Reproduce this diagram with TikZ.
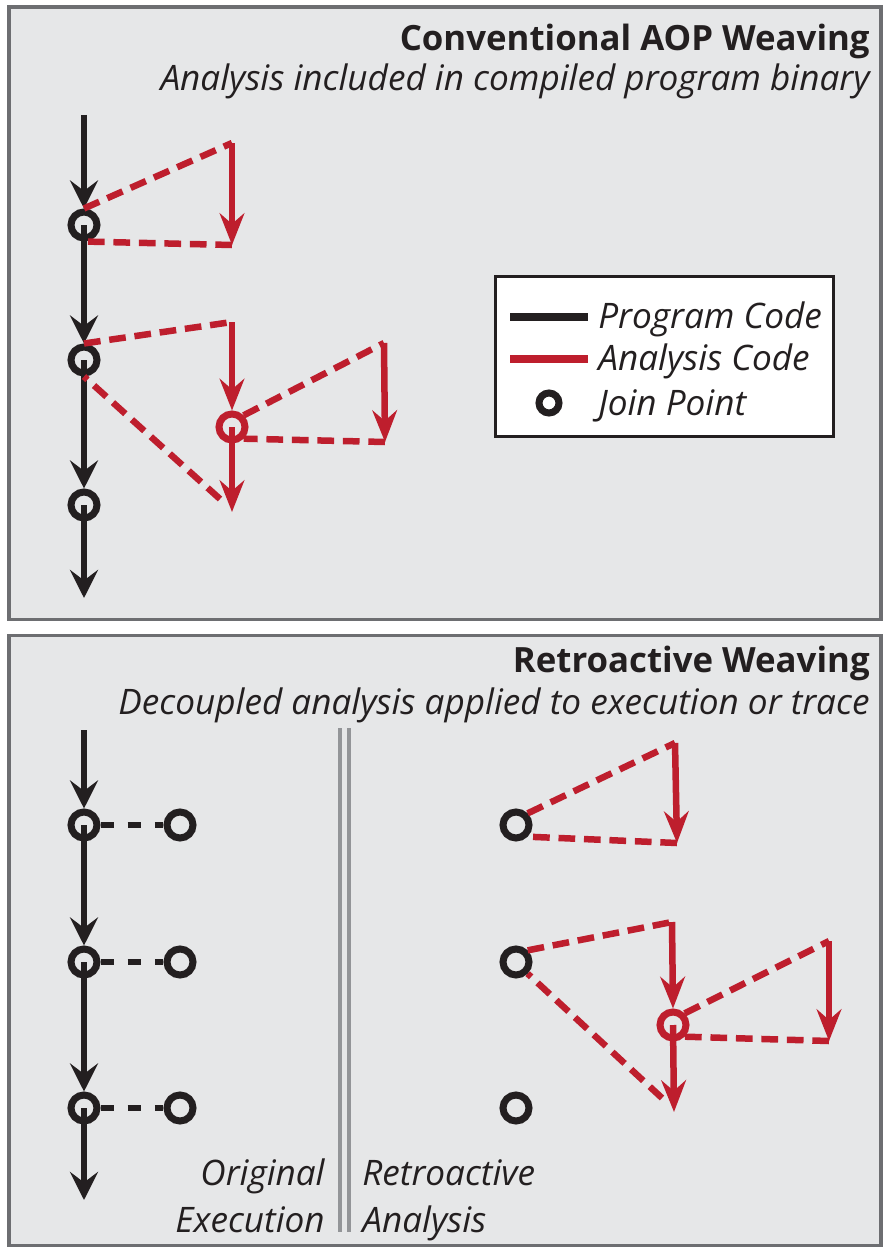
\documentclass[tikz,border=0pt]{standalone}
\usepackage{fontspec}
\setmainfont{Open Sans}
\usepackage{tikz}
\usetikzlibrary{arrows.meta,positioning}

\definecolor{panelgray}{HTML}{E6E7E8}
\definecolor{panelline}{HTML}{6D6E71}
\definecolor{codeblack}{HTML}{231F20}
\definecolor{codered}{HTML}{BE1E2D}
\definecolor{sepgray}{HTML}{939598}

\begin{document}
\begin{tikzpicture}[
    x=0.02cm, y=-0.02cm,
    panel/.style={fill=panelgray, draw=panelline, line width=2pt},
    progline/.style={line width=3.7pt, codeblack, -{Stealth[length=16pt,width=16pt,inset=6pt]}},
    advline/.style={line width=3.7pt, codered, -{Stealth[length=18pt,width=14pt,inset=6pt]}},
    weave/.style={line width=3.7pt, codered, dash pattern=on 9.5pt off 5pt},
    record/.style={line width=3.7pt, codeblack, dash pattern=on 7.5pt off 8pt},
    joinpt/.style={circle, draw=codeblack, line width=4pt, minimum size=0.52cm, inner sep=0pt},
    advpt/.style={joinpt, draw=codered},
    paneltitle/.style={anchor=base east, inner sep=0pt, text=codeblack, font=\fontsize{19.8}{24}\selectfont\bfseries},
    panelsub/.style={anchor=base east, inner sep=0pt, text=codeblack, font=\fontsize{20}{24}\selectfont\itshape},
    legtext/.style={anchor=base west, inner sep=0pt, text=codeblack, font=\fontsize{20}{24}\selectfont\itshape}
]
\useasboundingbox (0,0) rectangle (883,1247);

% Panels
\draw[panel] (9,7) rectangle (881,619.5);
\draw[panel] (9,635.5) rectangle (881,1245.5);

% ---------------- Conventional weaving ----------------
\node[paneltitle] (convtitle) at (870,51) {Conventional AOP Weaving};
\node[panelsub] (convsub) at (870,91) {Analysis included in compiled program binary};

% Join points
\node[joinpt] (j1) at (84,225) {};
\node[joinpt] (j2) at (84,360) {};
\node[joinpt] (j3) at (84,505) {};
\node[advpt] (r1) at (232,427) {};
\coordinate (p0) at (84,115);
\coordinate (p1) at (84,598);

% Program code
\draw[progline] (p0) -- (j1.north);
\draw[progline] (j1.center) -- (j2.north);
\draw[progline] (j2.center) -- (j3.north);
\draw[progline] (j3.center) -- (p1);

% Analysis code
\coordinate (t1) at (232,143);
\coordinate (b1) at (232,245);
\coordinate (t2) at (232,322);
\coordinate (b2) at (232,512);
\coordinate (s2) at (220,499);
\coordinate (t3) at (384,343);
\coordinate (b3) at (385,442);

\draw[weave] (j1.north) -- (t1);
\draw[advline] (t1) -- (b1);
\draw[weave] (b1) -- (j1.south);

\draw[weave] (j2.north) -- (t2);
\draw[advline] (t2) -- (r1.north);
\draw[advline] (r1.center) -- (b2);
\draw[weave] (s2) -- (j2.south);

\draw[weave] (r1.north east) -- (t3);
\draw[advline] (t3) -- (b3);
\draw[weave] (b3) -- (r1.south east);

% Legend
\node[draw=codeblack, fill=white, line width=1.7pt, minimum width=6.78cm, minimum height=3.22cm] (legend) at (664.5,356.5) {};
\draw[line width=4pt, codeblack] (510,317) -- (588,317);
\draw[line width=4pt, codered] (510,359) -- (588,359);
\node[circle, draw=codeblack, line width=4pt, minimum size=0.4cm, inner sep=0pt] (legjp) at (549,403) {};
\node[legtext] (legprog) at (598,328) {Program Code};
\node[legtext] (legana) at (598,370) {Analysis Code};
\node[legtext] (legjoin) at (598,415) {Join Point};

% ---------------- Retroactive weaving ----------------
\node[paneltitle] (retrotitle) at (870,672) {Retroactive Weaving};
\node[panelsub] (retrosub) at (870,714) {Decoupled analysis applied to execution or trace};

% Original execution
\node[joinpt] (k1) at (84,825) {};
\node[joinpt] (k2) at (84,962) {};
\node[joinpt] (k3) at (84,1108) {};
\node[joinpt] (e1) at (180,825) {};
\node[joinpt] (e2) at (180,962) {};
\node[joinpt] (e3) at (180,1108) {};
\coordinate (q0) at (84,730);
\coordinate (q1) at (84,1200);

\draw[progline] (q0) -- (k1.north);
\draw[progline] (k1.center) -- (k2.north);
\draw[progline] (k2.center) -- (k3.north);
\draw[progline] (k3.center) -- (q1);
\draw[record] (k1.east) -- (e1.west);
\draw[record] (k2.east) -- (e2.west);
\draw[record] (k3.east) -- (e3.west);

% Separator
\draw[sepgray, line width=2pt] (340,728) -- (340,1232);
\draw[sepgray, line width=2pt] (349,728) -- (349,1232);

\node[legtext, anchor=base east] (orig1) at (325,1185) {Original};
\node[legtext, anchor=base east] (orig2) at (325,1232) {Execution};
\node[legtext] (retro1) at (362,1185) {Retroactive};
\node[legtext] (retro2) at (362,1232) {Analysis};

% Retroactive analysis
\node[joinpt] (m1) at (516,825) {};
\node[joinpt] (m2) at (516,962) {};
\node[joinpt] (m3) at (516,1108) {};
\node[advpt] (r2) at (673,1025) {};

\coordinate (u1) at (675,743);
\coordinate (v1) at (677,843);
\coordinate (u2) at (672,922);
\coordinate (v2) at (674,1112);
\coordinate (w2) at (662,1098);
\coordinate (u3) at (829,941);
\coordinate (v3) at (829,1041);

\draw[weave] (m1.north east) -- (u1);
\draw[advline] (u1) -- (v1);
\draw[weave] (v1) -- (m1.south east);

\draw[weave] (m2.north east) -- (u2);
\draw[advline] (u2) -- (r2.north);
\draw[advline] (r2.center) -- (v2);
\draw[weave] (w2) -- (m2.south east);

\draw[weave] (r2.north east) -- (u3);
\draw[advline] (u3) -- (v3);
\draw[weave] (v3) -- (r2.south east);

\end{tikzpicture}
\end{document}
